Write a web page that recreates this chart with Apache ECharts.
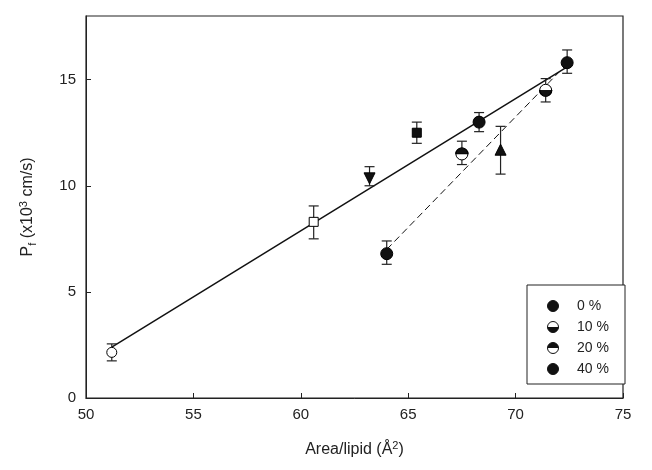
<!DOCTYPE html><html><head><meta charset="utf-8"><script src="https://cdn.jsdelivr.net/npm/echarts@6/dist/echarts.min.js"></script></head><body style="margin:0"><div id="c" style="width:652px;height:470px"></div><script>
const openCircle=[[51.2,2.15]];
const openSquare=[[60.6,8.3]];
const downTri=[[63.2,10.35]];
const filledSquare=[[65.4,12.5]];
const filledCircle=[[64.0,6.8],[68.3,13.0],[72.4,15.8]];
const topHalf=[[67.5,11.5]];
const bottomHalf=[[71.4,14.5]];
const upTri=[[69.3,11.7]];
const errBars=[[51.2,1.75,2.55],[60.6,7.5,9.05],[63.2,10.0,10.9],[65.4,12.0,13.0],[64.0,6.3,7.4],[67.5,11.0,12.1],[69.3,10.55,12.8],[68.3,12.55,13.45],[71.4,13.95,15.05],[72.4,15.3,16.4]];
const solidFit=[[51.2,2.4],[72.4,15.6]];
const dashedFit=[[64.0,7.0],[72.4,15.75]];
const legendLabels=['0 %','10 %','20 %','40 %'];
const F='Liberation Sans, Arial, sans-serif';
const bottomPath='path://M0,0 A10,10 0 0,0 20,0 Z';
const topPath='path://M0,10 A10,10 0 0,1 20,10 Z';
const sc=(name,data,symbol,size,color,extra)=>Object.assign({type:'scatter',name,data,symbol,symbolSize:size,itemStyle:{color,borderColor:'#000',borderWidth:1,opacity:1},z:5},extra||{});
const chart=echarts.init(document.getElementById('c'));
const lg=[];
legendLabels.forEach((t,i)=>{const y=306+i*21;
 lg.push({type:'circle',shape:{cx:553,cy:y,r:5.5},style:{fill:(i==0||i==3)?'#111':'#fff',stroke:'#111',lineWidth:1}});
 if(i==1)lg.push({type:'sector',shape:{cx:553,cy:y,r:5.5,startAngle:0,endAngle:Math.PI},style:{fill:'#111'}});
 if(i==2)lg.push({type:'sector',shape:{cx:553,cy:y,r:5.5,startAngle:Math.PI,endAngle:2*Math.PI},style:{fill:'#111'}});
 lg.push({type:'text',x:577,y:y,style:{text:t,font:'14px '+F,fill:'#222',verticalAlign:'middle'}});
});
chart.setOption({
 animation:false,
 grid:{left:86,right:29,top:16,bottom:72,show:true,borderColor:'#222',borderWidth:1.2},
 xAxis:{type:'value',min:50,max:75,interval:5,axisLine:{lineStyle:{color:'#222'}},axisTick:{inside:true,length:5},splitLine:{show:false},
  axisLabel:{fontFamily:F,fontSize:15,color:'#222',margin:9},
  name:'Area/lipid (Å{s|2})',nameLocation:'middle',nameGap:42,nameTextStyle:{fontFamily:F,fontSize:16,color:'#222',rich:{s:{fontSize:11,padding:[0,0,9,0]}}}},
 yAxis:{type:'value',min:0,max:18,interval:5,axisLine:{lineStyle:{color:'#222'}},axisTick:{inside:true,length:5},splitLine:{show:false},
  axisLabel:{fontFamily:F,fontSize:15,color:'#222',showMaxLabel:false,margin:10},
  name:'P{b|f} (x10{s|3} cm/s)',nameLocation:'middle',nameGap:48,nameTextStyle:{fontFamily:F,fontSize:16,color:'#222',rich:{s:{fontSize:11,padding:[0,0,9,0]},b:{fontSize:11,padding:[9,0,0,0]}}}},
 graphic:[{type:'rect',shape:{x:527,y:285,width:98,height:99},style:{fill:'#fff',stroke:'#222',lineWidth:1},z:10},...lg.map(g=>Object.assign(g,{z:11}))],
 series:[
  {type:'line',data:solidFit,symbol:'none',lineStyle:{color:'#111',width:1.5},z:2},
  {type:'line',data:dashedFit,symbol:'none',lineStyle:{color:'#111',width:1,type:[7,4]},z:2},
  {type:'custom',data:errBars,z:3,renderItem:(p,api)=>{const x=api.value(0),lo=api.coord([x,api.value(1)]),hi=api.coord([x,api.value(2)]);const s={stroke:'#222',lineWidth:1.2};
   return {type:'group',children:[{type:'line',shape:{x1:lo[0],y1:lo[1],x2:hi[0],y2:hi[1]},style:s},{type:'line',shape:{x1:lo[0]-5,y1:lo[1],x2:lo[0]+5,y2:lo[1]},style:s},{type:'line',shape:{x1:hi[0]-5,y1:hi[1],x2:hi[0]+5,y2:hi[1]},style:s}]};}},
  sc('oc',openCircle,'circle',10,'#fff'),
  sc('os',openSquare,'rect',9,'#fff'),
  sc('dt',downTri,'triangle',11,'#111',{symbolRotate:180}),
  sc('fs',filledSquare,'rect',9,'#111'),
  sc('fc',filledCircle,'circle',12,'#111'),
  sc('th',topHalf,'circle',12,'#fff'),
  sc('th2',topHalf,topPath,[12,6],'#111',{symbolOffset:[0,-3],z:6}),
  sc('bh',bottomHalf,'circle',12,'#fff'),
  sc('bh2',bottomHalf,bottomPath,[12,6],'#111',{symbolOffset:[0,3],z:6}),
  sc('ut',upTri,'triangle',11,'#111')
 ]});
</script></body></html>
